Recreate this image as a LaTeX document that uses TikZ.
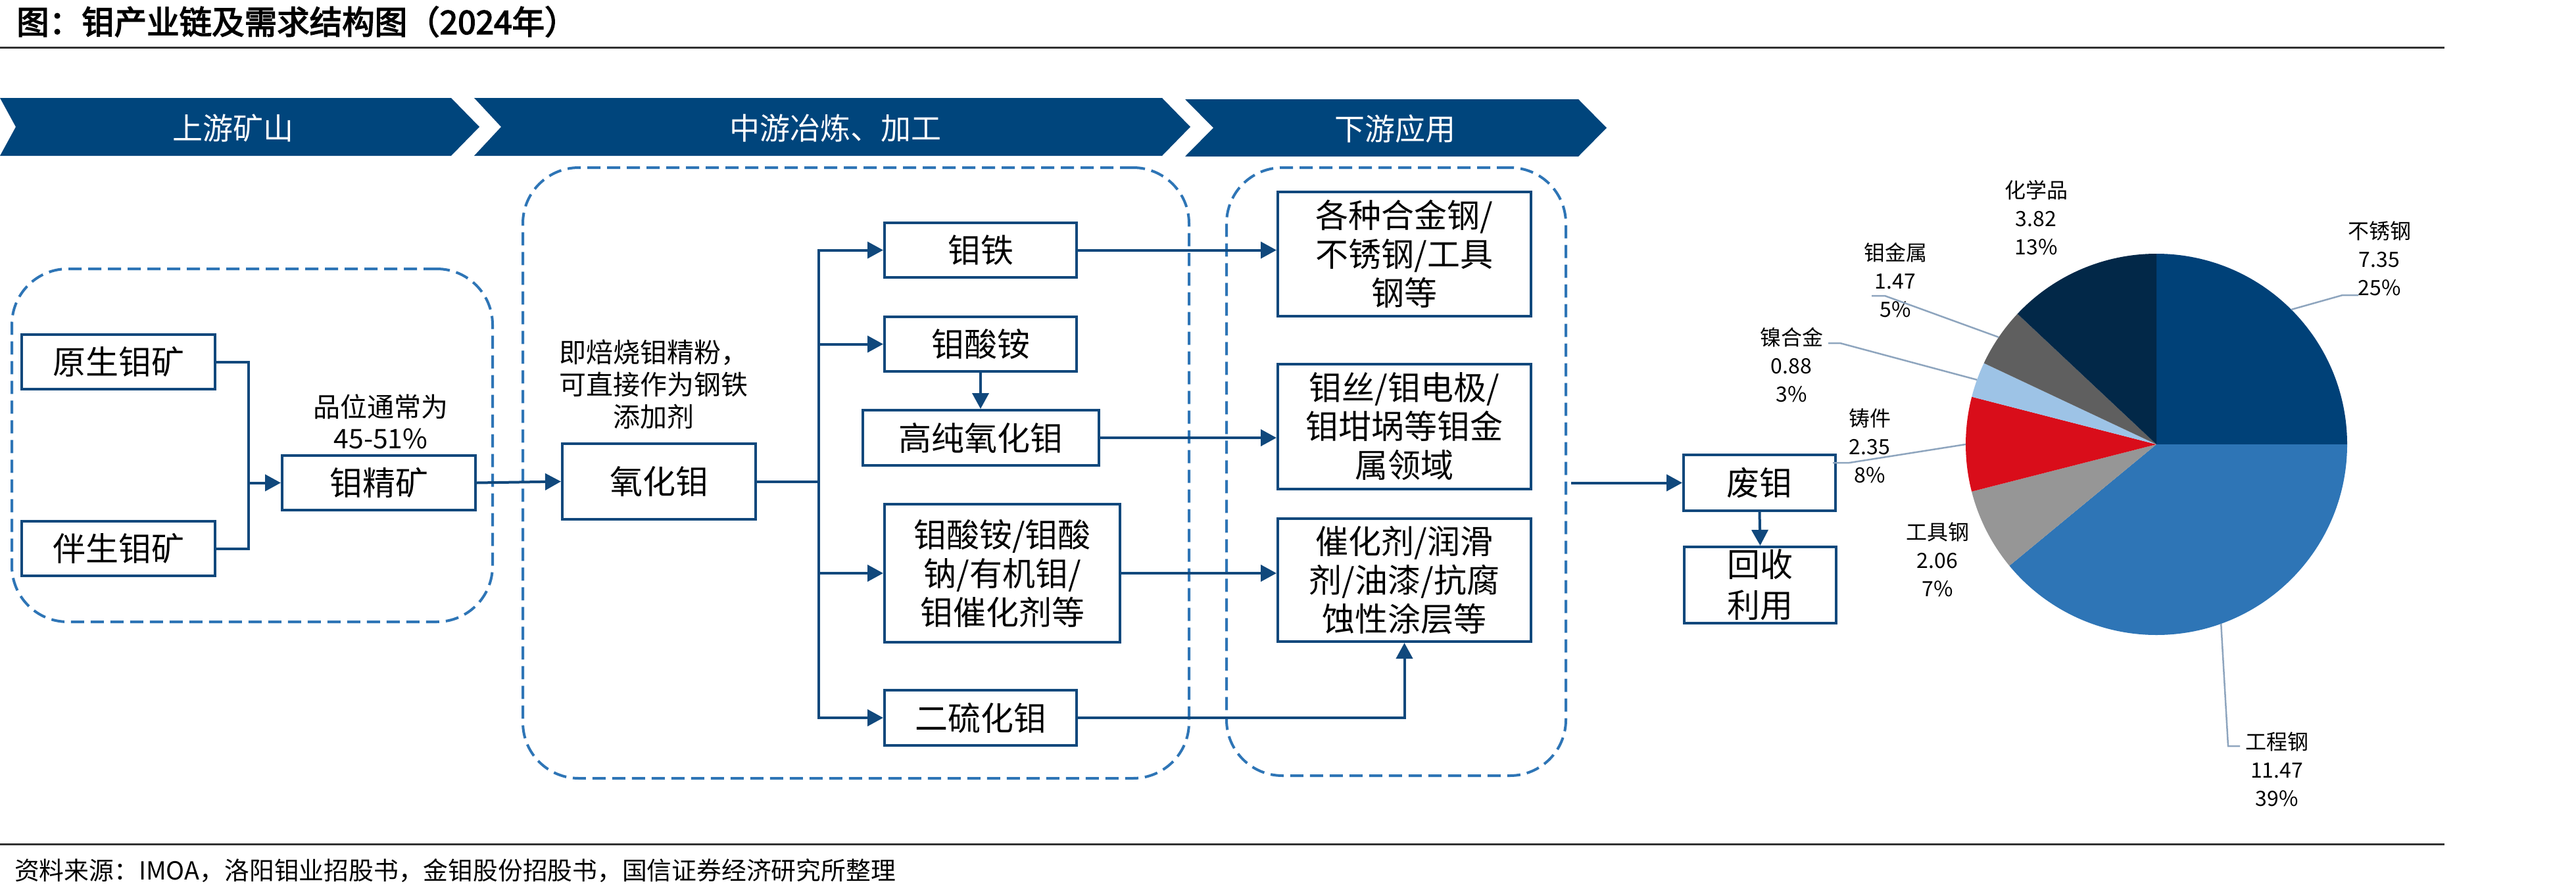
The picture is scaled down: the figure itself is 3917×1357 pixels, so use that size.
\documentclass[tikz,border=0pt]{standalone}
\usepackage{fontspec}
\setmainfont{Noto Sans CJK SC}[AutoFakeBold=3]
\usetikzlibrary{arrows.meta}
\definecolor{boxc}{RGB}{16,72,124}
\definecolor{chev}{RGB}{0,69,124}
\definecolor{dashc}{RGB}{46,117,182}
\definecolor{leadc}{RGB}{142,165,190}
\definecolor{rulec}{RGB}{50,50,50}
\definecolor{pA}{RGB}{0,65,120}
\definecolor{pB}{RGB}{46,117,182}
\definecolor{pC}{RGB}{150,150,150}
\definecolor{pD}{RGB}{217,13,26}
\definecolor{pE}{RGB}{157,195,230}
\definecolor{pF}{RGB}{95,95,95}
\definecolor{pG}{RGB}{2,40,72}
\begin{document}
\begin{tikzpicture}[x=1pt,y=1pt,
  flowbox/.style={draw=boxc, line width=4pt, fill=white, align=center, inner sep=0pt, font=\fontsize{50}{59}\selectfont},
  dbox/.style={draw=dashc, line width=4pt, dash pattern=on 20pt off 10pt, rounded corners=85pt, inner sep=0pt},
  link/.style={draw=boxc, line width=4pt},
  arr/.style={link, -{Triangle[length=24pt,width=25pt]}},
  note/.style={align=center, inner sep=0pt},
  chevtext/.style={text=white, font=\fontsize{46}{46}\selectfont, inner sep=0pt},
  plabel/.style={align=center, inner sep=0pt, font=\fontsize{32}{43}\selectfont},
  lead/.style={draw=leadc, line width=2.5pt},
  rule/.style={draw=rulec, line width=3pt},
]
\useasboundingbox (0,0) rectangle (3917,-1357);
\fill[white] (0,0) rectangle (3917,-1357);

% title and rules
\node[anchor=west, inner sep=0pt, font=\fontsize{49.5}{49.5}\selectfont\bfseries] (title) at (25,-33) {图：钼产业链及需求结构图（2024年）};
\draw[rule] (0,-72) -- (3717,-72);
\draw[rule] (0,-1284) -- (3717,-1284);
\node[anchor=west, inner sep=0pt, font=\fontsize{37.8}{37.8}\selectfont] (src) at (22,-1324) {资料来源：IMOA，洛阳钼业招股书，金钼股份招股书，国信证券经济研究所整理};

% chevrons
\fill[chev] (0,-149) -- (686,-149) -- (729,-193) -- (686,-237) -- (0,-237) -- (24,-193) -- cycle;
\fill[chev] (721,-149) -- (1767,-149) -- (1810,-193) -- (1767,-237) -- (721,-237) -- (762,-193) -- cycle;
\fill[chev] (1802,-151) -- (2400,-151) -- (2443,-194.5) -- (2400,-238) -- (1802,-238) -- (1845,-194.5) -- cycle;
\node[chevtext] (h1) at (354,-195) {上游矿山};
\node[chevtext] (h2) at (1270,-195) {中游冶炼、加工};
\node[chevtext] (h3) at (2121,-196) {下游应用};

% dashed groups
\node[dbox, minimum width=731pt, minimum height=537pt] (D1) at (383.5,-677.5) {};
\node[dbox, minimum width=1013pt, minimum height=929pt] (D2) at (1301.5,-719.5) {};
\node[dbox, minimum width=516pt, minimum height=925pt] (D3) at (2123,-717.5) {};

% boxes
\node[flowbox, minimum width=294pt, minimum height=83pt] (yuan) at (180,-550.5) {原生钼矿};
\node[flowbox, minimum width=294pt, minimum height=83pt] (ban) at (180,-834.5) {伴生钼矿};
\node[flowbox, minimum width=294pt, minimum height=83pt] (jing) at (576,-734.5) {钼精矿};
\node[flowbox, minimum width=294pt, minimum height=115pt] (yh) at (1002,-732.5) {氧化钼};
\node[flowbox, minimum width=292pt, minimum height=83pt] (mt) at (1491,-380.5) {钼铁};
\node[flowbox, minimum width=292pt, minimum height=83pt] (msa) at (1491,-523.5) {钼酸铵};
\node[flowbox, minimum width=359pt, minimum height=84pt] (gc) at (1491.5,-666) {高纯氧化钼};
\node[flowbox, minimum width=358pt, minimum height=210pt] (big) at (1524,-872) {钼酸铵/钼酸\\钠/有机钼/\\钼催化剂等};
\node[flowbox, minimum width=292pt, minimum height=84pt] (ls) at (1491,-1092) {二硫化钼};
\node[flowbox, minimum width=385pt, minimum height=189pt] (A) at (2135.5,-386.5) {各种合金钢/\\不锈钢/工具\\钢等};
\node[flowbox, minimum width=385pt, minimum height=190pt] (B) at (2135.5,-649) {钼丝/钼电极/\\钼坩埚等钼金\\属领域};
\node[flowbox, minimum width=385pt, minimum height=187pt] (C) at (2135.5,-882.5) {催化剂/润滑\\剂/油漆/抗腐\\蚀性涂层等};
\node[flowbox, minimum width=231pt, minimum height=85pt] (fm) at (2675.5,-734.5) {废钼};
\node[flowbox, minimum width=231pt, minimum height=116pt, font=\fontsize{50}{62}\selectfont] (hs) at (2676.5,-890) {回收\\利用};

% notes
\node[note, font=\fontsize{41}{48}\selectfont] (n1) at (579,-641) {品位通常为\\45-51\%};
\node[note, font=\fontsize{41}{49}\selectfont] (n2) at (994,-585) {即焙烧钼精粉，\\可直接作为钢铁\\添加剂};

% connectors
\coordinate (jx) at (378,-734.5);
\draw[link] (yuan.east) -| (jx);
\draw[link] (ban.east) -| (jx);
\draw[arr] (jx) -- (jing.west);
\draw[arr] (jing.east) -- (yh.west);
\coordinate (tr) at (1245,-732.5);
\draw[link] (yh.east) -- (tr);
\draw[arr] (tr) |- (mt.west);
\draw[arr] (tr) |- (msa.west);
\draw[arr] (tr) |- (big.west);
\draw[arr] (tr) |- (ls.west);
\draw[arr] (msa.south) -- (msa.south |- gc.north);
\draw[arr] (mt.east) -- (mt.east -| A.west);
\draw[arr] (gc.east) -- (gc.east -| B.west);
\draw[arr] (big.east) -- (big.east -| C.west);
\draw[arr] (ls.east) -| (C.south);
\draw[arr] ([xshift=6pt]D3.east |- fm.west) -- (fm.west);
\draw[arr] (fm.south) -- (hs.north);

% pie
\coordinate (pc) at (3279,-676);
\fill[pA] (pc) -- ++(90:290) arc[start angle=90, end angle=0, radius=290] -- cycle;
\fill[pB] (pc) -- ++(0:290) arc[start angle=0, end angle=-140.45, radius=290] -- cycle;
\fill[pC] (pc) -- ++(-140.45:290) arc[start angle=-140.45, end angle=-165.67, radius=290] -- cycle;
\fill[pD] (pc) -- ++(-165.67:290) arc[start angle=-165.67, end angle=-194.45, radius=290] -- cycle;
\fill[pE] (pc) -- ++(-194.45:290) arc[start angle=-194.45, end angle=-205.22, radius=290] -- cycle;
\fill[pF] (pc) -- ++(-205.22:290) arc[start angle=-205.22, end angle=-223.22, radius=290] -- cycle;
\fill[pG] (pc) -- ++(-223.22:290) arc[start angle=-223.22, end angle=-270, radius=290] -- cycle;

% pie labels
\node[plabel] (l1) at (3618,-393) {不锈钢\\7.35\\25\%};
\node[plabel] (l2) at (3462,-1170) {工程钢\\11.47\\39\%};
\node[plabel] (l3) at (2946,-851) {工具钢\\2.06\\7\%};
\node[plabel] (l4) at (2843,-678) {铸件\\2.35\\8\%};
\node[plabel] (l5) at (2724,-555) {镍合金\\0.88\\3\%};
\node[plabel] (l6) at (2882,-426) {钼金属\\1.47\\5\%};
\node[plabel] (l7) at (3096,-331) {化学品\\3.82\\13\%};

% leader lines
\coordinate (e1) at ([shift={(45:290)}]pc);
\coordinate (e2) at ([shift={(-70.2:290)}]pc);
\coordinate (e4) at ([shift={(180:290)}]pc);
\coordinate (e5) at ([shift={(160.2:290)}]pc);
\coordinate (e6) at ([shift={(145.8:290)}]pc);
\coordinate (k1) at (3562,-449);
\coordinate (k2) at (3388,-1135);
\coordinate (k4) at (2812,-704);
\coordinate (k5) at (2798,-522);
\coordinate (k6) at (2866,-450);
\draw[lead] (e1) -- (k1) -- ++(24,0);
\draw[lead] (e2) -- (k2) -- ++(18,0);
\draw[lead] (e4) -- (k4) -- ++(-25,0);
\draw[lead] (e5) -- (k5) -- ++(-18,0);
\draw[lead] (e6) -- (k6) -- ++(-20,0);
\end{tikzpicture}
\end{document}
